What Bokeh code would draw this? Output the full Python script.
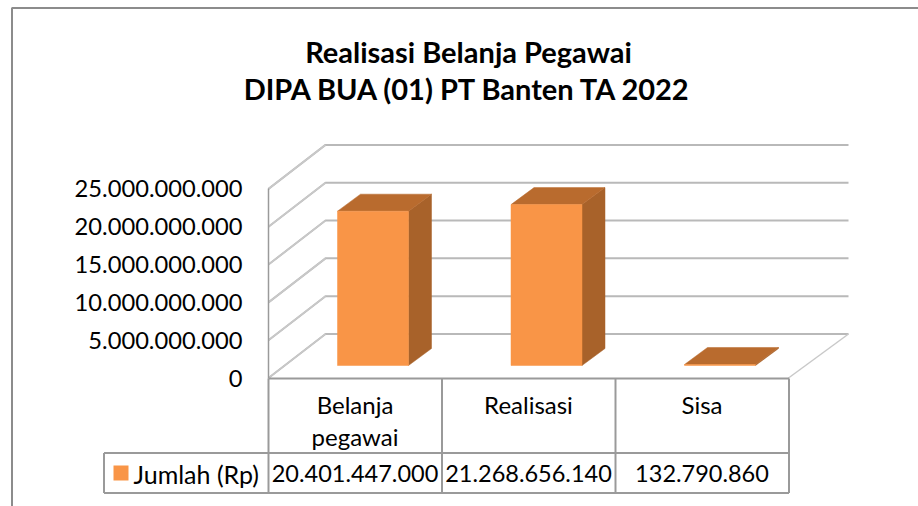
from bokeh.plotting import figure
from bokeh.models import Range1d, LinearAxis, FixedTicker
from bokeh.core.properties import value
from bokeh.embed import file_html
from bokeh.resources import INLINE

# ---- data ----
categories = ["Belanja pegawai", "Realisasi", "Sisa"]
header_lines = [["Belanja", "pegawai"], ["Realisasi"], ["Sisa"]]
jumlah = [20401447000, 21268656140, 132790860]
jumlah_labels = ["20.401.447.000", "21.268.656.140", "132.790.860"]
y_ticks = [0, 5000000000, 10000000000, 15000000000, 20000000000, 25000000000]
y_tick_labels = ["0", "5.000.000.000", "10.000.000.000", "15.000.000.000",
                 "20.000.000.000", "25.000.000.000"]
series_name = "Jumlah (Rp)"
title_lines = ["Realisasi Belanja Pegawai", "DIPA BUA (01) PT Banten TA 2022"]

# ---- layout (page pixels) and scales ----
W, H = 918, 506
ORIGIN_X, ORIGIN_Y = 0, 0
PX_PER_CAT = 173.5
PX_PER_VAL = 7.565e-9
X0_PAGE, Y0_PAGE = 354.5, 377.5      # category 0 centre / value 0


def dx(px):
    return px / PX_PER_CAT


def dy(px):
    return px / PX_PER_VAL


def xp(page):
    return (page - X0_PAGE) / PX_PER_CAT


def yp(page):
    return (Y0_PAGE - page) / PX_PER_VAL


p = figure(width=W, height=H, output_backend="svg", toolbar_location=None,
           x_range=Range1d(xp(ORIGIN_X), xp(ORIGIN_X + W)),
           y_range=Range1d(yp(ORIGIN_Y + H), yp(ORIGIN_Y)),
           min_border=0, outline_line_color=None)
p.xaxis.visible = False
p.yaxis.visible = False
p.xgrid.visible = False
p.ygrid.visible = False

FONT = value("Lato")
GRID = "#b9b9b9"
WALL = "#c9c9c9"
LINE = "#9a9a9a"
ORANGE = "#f99547"
SIDE = "#a8622a"
TOP = "#b96b2e"

# outer frame (top and left only)
p.line([xp(11.5), xp(11.5), xp(ORIGIN_X + W)], [yp(ORIGIN_Y + H), yp(7.5), yp(7.5)],
       line_color="#8c8c8c", line_width=2)

# 3D walls
DEPTH_X, DEPTH_Y = 57, 44
xl = xp(268)
xr = xp(788)
for t in y_ticks:
    p.line([xl, xl + dx(DEPTH_X), xr + dx(DEPTH_X + 3)],
           [t, t + dy(DEPTH_Y), t + dy(DEPTH_Y)], line_color=GRID, line_width=2)
    p.line([xl, xl + dx(DEPTH_X)], [t, t + dy(DEPTH_Y)], line_color=WALL, line_width=1.5)
p.line([xr, xr + dx(DEPTH_X + 3)], [0, dy(DEPTH_Y)], line_color=WALL, line_width=1.5)

# 3D bars built from the values
BAR_W = 71
OFF_X, OFF_Y, D_X, D_Y = 18, 12.5, 23, 17
for i, v in enumerate(jumlah):
    x1 = i + dx(OFF_X - BAR_W / 2)
    x2 = i + dx(OFF_X + BAR_W / 2)
    y1 = dy(OFF_Y)
    y2 = y1 + v
    ddx, ddy = dx(D_X), dy(D_Y)
    p.patch([x2, x2 + ddx, x2 + ddx, x2], [y1, y1 + ddy, y2 + ddy, y2],
            fill_color=SIDE, line_color=SIDE, line_width=0.5)
    p.patch([x1, x2, x2 + ddx, x1 + ddx], [y2, y2, y2 + ddy, y2 + ddy],
            fill_color=TOP, line_color=TOP, line_width=0.5)
    p.quad(left=[x1], right=[x2], bottom=[y1], top=[y2],
           fill_color=ORANGE, line_color=ORANGE, line_width=0.5)

# value axis
yaxis = LinearAxis(fixed_location=xl, ticker=FixedTicker(ticks=y_ticks),
                   major_label_overrides=dict(zip(y_ticks, y_tick_labels)),
                   major_tick_line_color=None, minor_tick_line_color=None,
                   axis_line_color=LINE, axis_line_width=1.5,
                   major_label_text_font="Lato", major_label_text_font_size="23.7px",
                   major_label_text_color="#000000", major_label_standoff=20,
                   bounds=(0, 25000000000))
p.add_layout(yaxis, "left")

# data table
row_top, row_mid, row_bot = 378, 452.5, 492.5
x_edges = [xl + i for i in range(4)]
tx = xp(103.5)
for xe in x_edges:
    p.line([xe, xe], [yp(row_top), yp(row_bot)], line_color=LINE, line_width=2)
p.line([xl, x_edges[-1]], [yp(row_top), yp(row_top)], line_color=LINE, line_width=2)
p.line([tx, x_edges[-1]], [yp(row_mid), yp(row_mid)], line_color=LINE, line_width=2)
p.line([tx, x_edges[-1]], [yp(row_bot), yp(row_bot)], line_color=LINE, line_width=2)
p.line([tx, tx], [yp(row_mid), yp(row_bot)], line_color=LINE, line_width=2)

for i, lines in enumerate(header_lines):
    for j, s in enumerate(lines):
        p.text([i], [yp(403.5 + 32 * j)], text=[s], text_font=FONT, text_font_size="24px",
               text_align="center", text_baseline="middle", text_color="#000000")
p.text(list(range(3)), [yp(473)] * 3, text=jumlah_labels, text_font=FONT,
       text_font_size="23.5px", text_align="center", text_baseline="middle",
       text_color="#000000")
p.text([xp(133)], [yp(473)], text=[series_name], text_font=FONT, text_font_size="25px",
       text_align="left", text_baseline="middle", text_color="#000000")
p.quad(left=[xp(113)], right=[xp(128)], bottom=[yp(480)], top=[yp(465)],
       fill_color=ORANGE, line_color=None)

# title
for k, s in enumerate(title_lines):
    p.text([xp(468)], [yp(50.5 + 37 * k)], text=[s], text_font=FONT, text_font_size="29px",
           text_font_style="bold", text_align="center", text_baseline="middle",
           text_color="#000000")

open("out.html", "w").write(file_html(p, INLINE))
